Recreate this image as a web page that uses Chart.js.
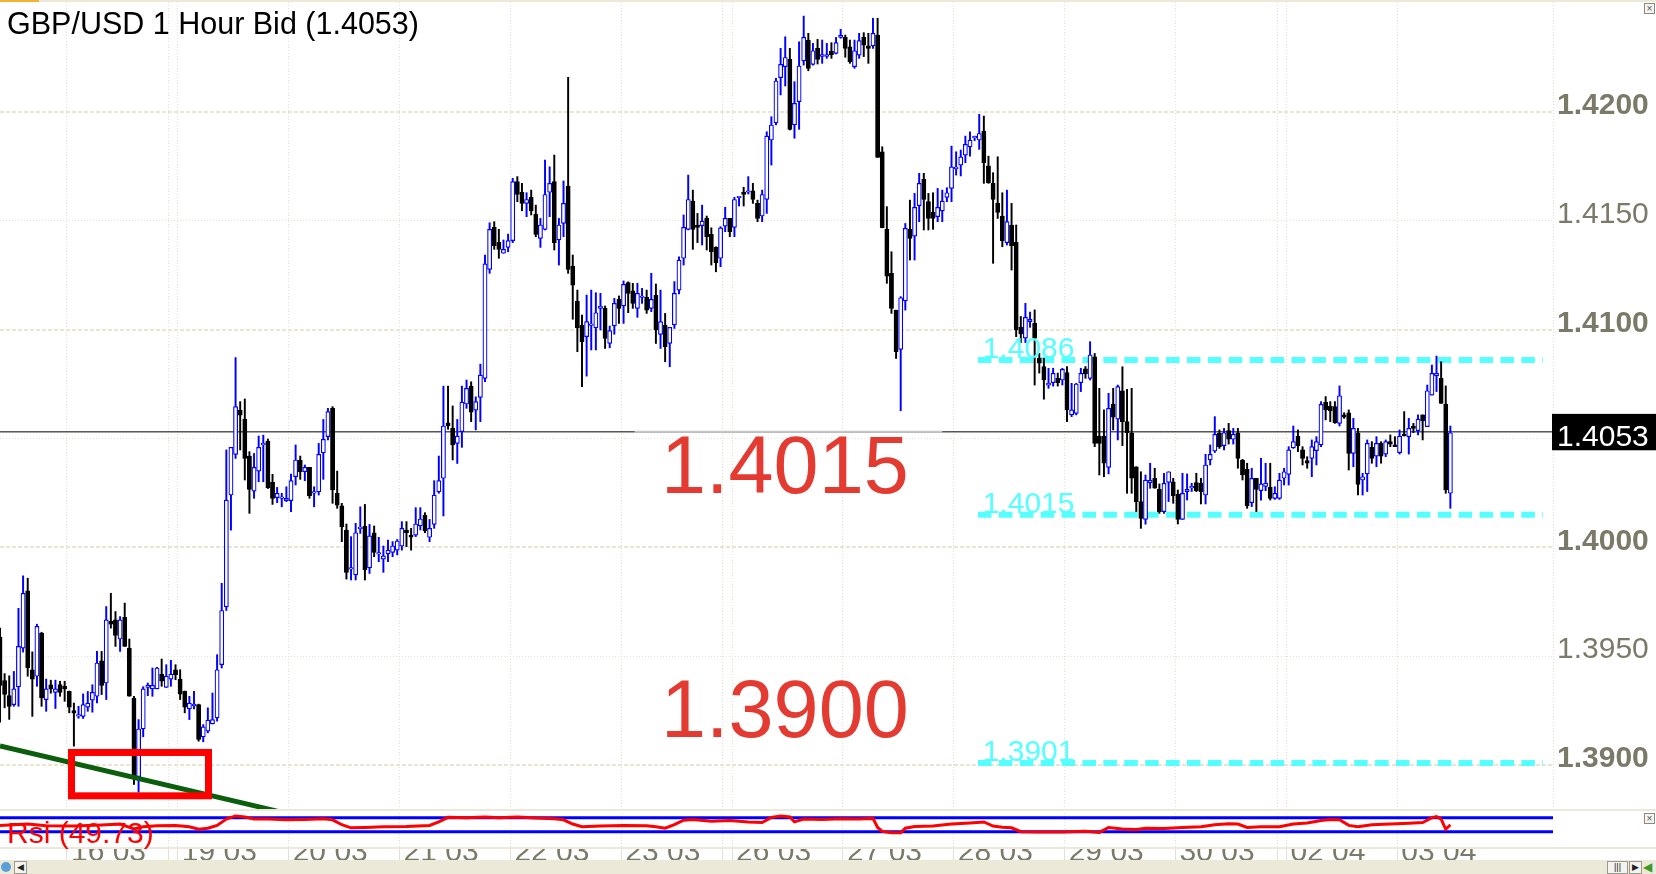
<!DOCTYPE html>
<html>
<head>
<meta charset="utf-8">
<script src="https://cdn.jsdelivr.net/npm/chart.js@4.4.1/dist/chart.umd.min.js"></script>
<style>
  html, body { margin:0; padding:0; background:#ffffff; }
  body { width:1656px; height:874px; position:relative; overflow:hidden; font-family:"Liberation Sans", Arial, sans-serif; }
  canvas { position:absolute; left:0; }
  #c1 { top:0; }
  #c2 { top:810px; }
  .abs { position:absolute; }
  #topline { left:0; top:0; width:1656px; height:2px; background:#ece9d8; }
  #toporange { left:0; top:0; width:39px; height:2px; background:#f3b233; }
  #title { left:7px; top:8px; font-size:30.5px; line-height:30px; color:#000; white-space:nowrap; }
  #sep1 { left:0; top:809px; width:1656px; height:2px; background:#ebe8dc; }
  #sep2 { left:0; top:847px; width:1656px; height:2px; background:#ebe8dc; }
  #rsiTitle { left:7px; top:818px; font-size:30px; line-height:30px; color:#ff0000; white-space:nowrap; }
  #bottombar { left:0; top:860px; width:1656px; height:14px; background:#ece9d8; }
  .xbtn { width:9px; height:9px; border:1px solid #8a8a80; background:#f6f5f0; font-size:10px; line-height:9px; text-align:center; color:#555; }
  .bb { top:1px; height:11px; border:1px solid #9a9a90; background:#f4f3ee; font-size:9px; line-height:11px; text-align:center; color:#222; }
</style>
</head>
<body>
<canvas id="c1" width="1656" height="812"></canvas>
<canvas id="c2" width="1656" height="64"></canvas>
<div id="topline" class="abs"></div>
<div id="toporange" class="abs"></div>
<div id="title" class="abs">GBP/USD 1 Hour Bid (1.4053)</div>
<div class="abs xbtn" style="left:1644px;top:3px;">×</div>
<div id="sep1" class="abs"></div>
<div id="sep2" class="abs"></div>
<div id="rsiTitle" class="abs">Rsi (49.73)</div>
<div class="abs xbtn" style="left:1644px;top:813px;">×</div>
<div id="bottombar" class="abs">
  <div class="abs" style="left:1px;top:2px;width:10px;height:10px;border-radius:6px;background:#5aa0d8;"></div>
  <div class="abs bb" style="left:14px;width:11px;">◀</div>
  <div class="abs bb" style="left:1607px;width:19px;">|||</div>
  <div class="abs bb" style="left:1629px;width:11px;">▶</div>
  <div class="abs" style="left:1643px;top:1px;font-size:12px;line-height:12px;color:#3a9a2a;">◀</div>
</div>
<script>
const FONT = '"Liberation Sans", Arial, sans-serif';
Chart.defaults.font.family = FONT;

// ---- axis ticks ----
const dayStarts = [14.5, 36.5, 38.5, 62.5, 86.5, 110.5, 134.5, 156.5, 158.5, 182.5, 206.5, 230.5, 254.5, 276.5, 278.5, 302.5];
const dayLabels = ['16 03', '', '19 03', '20 03', '21 03', '22 03', '23 03', '', '26 03', '27 03', '28 03', '29 03', '30 03', '', '02 04', '03 04'];
const yTickValues = [1.3900, 1.3950, 1.4000, 1.4050, 1.4100, 1.4150, 1.4200];

// ---- hourly candles (bar index 0 = 15.03 09:00) ----
const opens = [
1.39588,1.39388,1.39319,1.39278,1.39359,1.39537,1.39800,1.39438,1.39408,1.39606,
1.39301,1.39369,1.39334,1.39370,1.39362,1.39339,1.39250,1.39225,1.39224,1.39266,
1.39298,1.39316,1.39479,1.39377,1.39660,1.39667,1.39579,1.39679,1.39537,1.39308,
1.38947,1.39166,1.39357,1.39350,1.39350,1.39418,1.39357,1.39395,1.39438,1.39395,
1.39339,1.39258,1.39272,1.39278,1.39130,1.39156,1.39189,1.39217,1.39461,1.39727,
1.40240,1.40427,1.40630,1.40589,1.40419,1.40258,1.40350,1.40470,1.40488,1.40298,
1.40228,1.40225,1.40214,1.40214,1.40324,1.40401,1.40347,1.40367,1.40248,1.40255,
1.40434,1.40508,1.40638,1.40248,1.40190,1.40079,1.39900,1.39873,1.40086,1.40098,
1.39906,1.40067,1.39969,1.39946,1.39970,1.39977,1.39987,1.40006,1.40079,1.40056,
1.40056,1.40098,1.40148,1.40046,1.40105,1.40255,1.40317,1.40572,1.40546,1.40477,
1.40531,1.40658,1.40740,1.40630,1.40688,1.40776,1.41276,1.41469,1.41400,1.41350,
1.41377,1.41408,1.41679,1.41630,1.41579,1.41607,1.41530,1.41418,1.41460,1.41630,
1.41679,1.41411,1.41487,1.41659,1.41291,1.41131,1.41020,1.40967,1.41019,1.41008,
1.41097,1.41097,1.40936,1.41017,1.41138,1.41108,1.41216,1.41178,1.41097,1.41147,
1.41148,1.41097,1.41158,1.40978,1.41020,1.40936,1.41021,1.41181,1.41327,1.41460,
1.41590,1.41480,1.41477,1.41510,1.41437,1.41377,1.41327,1.41475,1.41510,1.41469,
1.41605,1.41631,1.41630,1.41637,1.41579,1.41521,1.41597,1.41870,1.41949,1.42156,
1.42207,1.42240,1.41939,1.42046,1.42233,1.42329,1.42217,1.42291,1.42254,1.42254,
1.42278,1.42268,1.42341,1.42341,1.42298,1.42207,1.42260,1.42341,1.42302,1.42302,
1.42352,1.41816,1.41460,1.41258,1.41089,1.40909,1.41131,1.41460,1.41429,1.41569,
1.41689,1.41587,1.41538,1.41518,1.41545,1.41607,1.41648,1.41739,1.41755,1.41801,
1.41839,1.41880,1.41870,1.41911,1.41751,1.41671,1.41579,1.41521,1.41399,1.41480,
1.41400,1.41010,1.40960,1.41036,1.41028,1.40868,1.40830,1.40745,1.40756,1.40776,
1.40768,1.40802,1.40608,1.40615,1.40756,1.40819,1.40776,1.40875,1.40511,1.40511,
1.40367,1.40658,1.40588,1.40719,1.40577,1.40526,1.40370,1.40210,1.40128,1.40297,
1.40317,1.40266,1.40164,1.40298,1.40301,1.40243,1.40128,1.40256,1.40273,1.40297,
1.40294,1.40240,1.40401,1.40442,1.40523,1.40467,1.40536,1.40496,1.40526,1.40401,
1.40358,1.40205,1.40317,1.40260,1.40280,1.40275,1.40225,1.40225,1.40317,1.40335,
1.40457,1.40511,1.40447,1.40398,1.40408,1.40444,1.40470,1.40666,1.40649,1.40646,
1.40569,1.40608,1.40618,1.40431,1.40526,1.40309,1.40337,1.40459,1.40419,1.40477,
1.40428,1.40485,1.40470,1.40435,1.40520,1.40508,1.40557,1.40536,1.40608,1.40554,
1.40699,1.40787,1.40776,1.40658,1.40248];
const highs = [
1.39629,1.39420,1.39410,1.39430,1.39720,1.39869,1.39858,1.39520,1.39647,1.39610,
1.39395,1.39390,1.39390,1.39385,1.39385,1.39340,1.39285,1.39270,1.39327,1.39338,
1.39369,1.39522,1.39522,1.39728,1.39789,1.39705,1.39682,1.39744,1.39579,1.39316,
1.39209,1.39360,1.39377,1.39446,1.39449,1.39487,1.39461,1.39481,1.39461,1.39438,
1.39340,1.39316,1.39339,1.39280,1.39186,1.39263,1.39331,1.39507,1.39835,1.40447,
1.40459,1.40871,1.40669,1.40681,1.40439,1.40431,1.40511,1.40515,1.40497,1.40335,
1.40275,1.40248,1.40278,1.40336,1.40470,1.40419,1.40378,1.40367,1.40278,1.40477,
1.40587,1.40638,1.40646,1.40350,1.40202,1.40107,1.40049,1.40110,1.40186,1.40197,
1.40105,1.40098,1.40046,1.40006,1.40033,1.40026,1.40036,1.40118,1.40118,1.40087,
1.40182,1.40182,1.40159,1.40128,1.40306,1.40419,1.40740,1.40740,1.40649,1.40587,
1.40740,1.40768,1.40760,1.40691,1.40841,1.41342,1.41490,1.41495,1.41460,1.41411,
1.41438,1.41694,1.41702,1.41671,1.41628,1.41640,1.41571,1.41510,1.41778,1.41747,
1.41801,1.41510,1.41682,1.42158,1.41342,1.41181,1.41066,1.41158,1.41181,1.41169,
1.41166,1.41108,1.41016,1.41143,1.41154,1.41223,1.41219,1.41212,1.41212,1.41189,
1.41181,1.41258,1.41209,1.41181,1.41074,1.41010,1.41220,1.41334,1.41526,1.41709,
1.41640,1.41533,1.41571,1.41521,1.41467,1.41380,1.41472,1.41561,1.41510,1.41607,
1.41607,1.41653,1.41702,1.41671,1.41594,1.41640,1.41908,1.41977,1.42153,1.42291,
1.42344,1.42291,1.42138,1.42321,1.42439,1.42360,1.42314,1.42332,1.42329,1.42314,
1.42317,1.42341,1.42378,1.42352,1.42329,1.42329,1.42360,1.42363,1.42360,1.42429,
1.42429,1.41839,1.41564,1.41357,1.41089,1.41151,1.41487,1.41594,1.41625,1.41717,
1.41717,1.41625,1.41628,1.41648,1.41640,1.41651,1.41842,1.41816,1.41824,1.41888,
1.41908,1.41888,1.41988,1.41980,1.41796,1.41720,1.41793,1.41628,1.41640,1.41579,
1.41480,1.41060,1.41120,1.41080,1.41090,1.40890,1.40868,1.40822,1.40822,1.40800,
1.40822,1.40830,1.40753,1.40753,1.40822,1.40830,1.40944,1.40890,1.40730,1.40631,
1.40707,1.40730,1.40745,1.40829,1.40725,1.40730,1.40370,1.40347,1.40332,1.40386,
1.40363,1.40291,1.40340,1.40347,1.40317,1.40263,1.40340,1.40337,1.40294,1.40340,
1.40317,1.40427,1.40470,1.40600,1.40539,1.40546,1.40569,1.40546,1.40546,1.40404,
1.40386,1.40363,1.40317,1.40408,1.40386,1.40386,1.40278,1.40340,1.40363,1.40462,
1.40557,1.40539,1.40462,1.40416,1.40493,1.40508,1.40669,1.40692,1.40669,1.40669,
1.40741,1.40618,1.40631,1.40592,1.40546,1.40340,1.40493,1.40485,1.40508,1.40485,
1.40493,1.40516,1.40508,1.40539,1.40623,1.40592,1.40569,1.40608,1.40608,1.40745,
1.40837,1.40878,1.40852,1.40741,1.40557];
const lows = [
1.39197,1.39263,1.39210,1.39270,1.39270,1.39519,1.39408,1.39224,1.39362,1.39270,
1.39247,1.39330,1.39260,1.39316,1.39293,1.39240,1.39087,1.39215,1.39214,1.39247,
1.39243,1.39285,1.39324,1.39301,1.39629,1.39545,1.39522,1.39545,1.39316,1.38911,
1.38876,1.39130,1.39319,1.39316,1.39350,1.39362,1.39357,1.39362,1.39392,1.39301,
1.39240,1.39209,1.39258,1.39110,1.39107,1.39148,1.39189,1.39202,1.39446,1.39710,
1.40079,1.40408,1.40447,1.40309,1.40156,1.40225,1.40301,1.40301,1.40270,1.40197,
1.40205,1.40186,1.40210,1.40164,1.40286,1.40312,1.40306,1.40225,1.40186,1.40240,
1.40312,1.40493,1.40202,1.40179,1.40026,1.39854,1.39850,1.39850,1.40064,1.39850,
1.39880,1.39957,1.39934,1.39885,1.39934,1.39957,1.39965,1.39987,1.40003,1.39987,
1.40049,1.40080,1.40067,1.40026,1.40087,1.40248,1.40144,1.40542,1.40401,1.40385,
1.40459,1.40638,1.40577,1.40539,1.40577,1.40760,1.41258,1.41368,1.41327,1.41350,
1.41357,1.41399,1.41587,1.41545,1.41518,1.41526,1.41426,1.41377,1.41457,1.41518,
1.41365,1.41296,1.41426,1.41258,1.41047,1.40898,1.40737,1.40786,1.40906,1.40906,
1.40998,1.40913,1.40916,1.40978,1.41028,1.41028,1.41077,1.41097,1.41056,1.41120,
1.41074,1.41082,1.40936,1.40913,1.40852,1.40829,1.41005,1.41163,1.41296,1.41457,
1.41368,1.41399,1.41388,1.41365,1.41296,1.41265,1.41288,1.41449,1.41426,1.41426,
1.41567,1.41567,1.41622,1.41579,1.41495,1.41495,1.41533,1.41755,1.41939,1.42077,
1.42118,1.41916,1.41878,1.41919,1.42214,1.42188,1.42214,1.42219,1.42222,1.42245,
1.42245,1.42265,1.42337,1.42250,1.42222,1.42199,1.42245,1.42253,1.42222,1.42291,
1.41790,1.41467,1.41212,1.41074,1.40867,1.40627,1.41089,1.41319,1.41319,1.41495,
1.41457,1.41457,1.41460,1.41495,1.41495,1.41587,1.41587,1.41709,1.41705,1.41766,
1.41796,1.41867,1.41827,1.41671,1.41671,1.41304,1.41510,1.41380,1.41388,1.41273,
1.40967,1.40940,1.40940,1.41010,1.40745,1.40800,1.40680,1.40730,1.40740,1.40740,
1.40745,1.40577,1.40600,1.40608,1.40715,1.40776,1.40768,1.40462,1.40332,1.40324,
1.40337,1.40539,1.40493,1.40467,1.40248,1.40248,1.40164,1.40087,1.40106,1.40271,
1.40271,1.40156,1.40156,1.40210,1.40202,1.40107,1.40128,1.40217,1.40256,1.40256,
1.40199,1.40199,1.40378,1.40435,1.40454,1.40447,1.40474,1.40474,1.40363,1.40309,
1.40179,1.40187,1.40164,1.40217,1.40260,1.40217,1.40220,1.40220,1.40286,1.40286,
1.40454,1.40439,1.40378,1.40363,1.40324,1.40378,1.40462,1.40585,1.40577,1.40569,
1.40557,1.40592,1.40355,1.40370,1.40240,1.40240,1.40256,1.40386,1.40370,1.40386,
1.40416,1.40462,1.40462,1.40428,1.40511,1.40428,1.40526,1.40516,1.40493,1.40554,
1.40699,1.40715,1.40661,1.40248,1.40179];
const closes = [
1.39366,1.39324,1.39270,1.39350,1.39545,1.39789,1.39446,1.39395,1.39637,1.39308,
1.39350,1.39350,1.39350,1.39334,1.39350,1.39266,1.39238,1.39230,1.39278,1.39285,
1.39334,1.39469,1.39366,1.39667,1.39647,1.39595,1.39667,1.39545,1.39316,1.38949,
1.39166,1.39350,1.39366,1.39366,1.39446,1.39385,1.39408,1.39418,1.39415,1.39326,
1.39266,1.39285,1.39280,1.39118,1.39176,1.39206,1.39209,1.39438,1.39710,1.40217,
1.40459,1.40646,1.40607,1.40408,1.40266,1.40367,1.40459,1.40472,1.40274,1.40225,
1.40248,1.40227,1.40225,1.40306,1.40401,1.40347,1.40367,1.40237,1.40256,1.40427,
1.40496,1.40623,1.40263,1.40194,1.40095,1.39885,1.39905,1.40067,1.40087,1.39896,
1.40053,1.39977,1.39970,1.39961,1.39987,1.40006,1.40029,1.40087,1.40067,1.40046,
1.40107,1.40130,1.40076,1.40087,1.40240,1.40306,1.40557,1.40557,1.40470,1.40511,
1.40666,1.40730,1.40620,1.40669,1.40791,1.41301,1.41460,1.41385,1.41368,1.41368,
1.41408,1.41679,1.41620,1.41579,1.41597,1.41545,1.41437,1.41480,1.41620,1.41671,
1.41399,1.41480,1.41579,1.41276,1.41204,1.41008,1.40944,1.41036,1.41021,1.41077,
1.41108,1.40959,1.40995,1.41120,1.41097,1.41207,1.41166,1.41120,1.41166,1.41148,
1.41089,1.41138,1.40998,1.41036,1.40921,1.41010,1.41166,1.41319,1.41469,1.41597,
1.41460,1.41469,1.41498,1.41426,1.41357,1.41307,1.41467,1.41510,1.41449,1.41597,
1.41607,1.41620,1.41631,1.41597,1.41510,1.41620,1.41888,1.41939,1.42141,1.42217,
1.42249,1.41919,1.42038,1.42210,1.42341,1.42199,1.42280,1.42240,1.42262,1.42262,
1.42262,1.42317,1.42352,1.42291,1.42230,1.42280,1.42326,1.42306,1.42291,1.42360,
1.41790,1.41467,1.41245,1.41097,1.40898,1.41146,1.41464,1.41418,1.41561,1.41671,
1.41597,1.41510,1.41510,1.41561,1.41590,1.41628,1.41747,1.41740,1.41793,1.41850,
1.41870,1.41881,1.41900,1.41766,1.41674,1.41597,1.41538,1.41408,1.41495,1.41385,
1.40998,1.40980,1.41056,1.41047,1.40960,1.40845,1.40768,1.40753,1.40799,1.40756,
1.40817,1.40631,1.40631,1.40750,1.40799,1.40796,1.40883,1.40477,1.40477,1.40386,
1.40638,1.40597,1.40738,1.40577,1.40526,1.40317,1.40210,1.40133,1.40309,1.40309,
1.40271,1.40164,1.40294,1.40347,1.40236,1.40128,1.40248,1.40266,1.40274,1.40260,
1.40256,1.40378,1.40427,1.40519,1.40462,1.40526,1.40496,1.40519,1.40408,1.40332,
1.40190,1.40317,1.40266,1.40291,1.40295,1.40225,1.40248,1.40309,1.40347,1.40447,
1.40485,1.40467,1.40408,1.40386,1.40462,1.40485,1.40656,1.40631,1.40626,1.40572,
1.40696,1.40597,1.40431,1.40546,1.40289,1.40324,1.40477,1.40408,1.40477,1.40419,
1.40485,1.40474,1.40462,1.40511,1.40511,1.40546,1.40546,1.40588,1.40580,1.40719,
1.40799,1.40799,1.40661,1.40263,1.40526];

// ---- drawn objects ----
const lastPrice = 1.4053;
const levels = [1.4086, 1.4015, 1.3901];
const levelBars = [211.73, 334.05];
const priceLineBars = [0, 336.22];
const priceLineGapBars = [137.4, 204.0];
const trendBars = [0, 60];
const trendPrices = [1.39088, 1.38789];
const boxBars = [15.48, 45.14];
const boxPrices = [1.39058, 1.38859];
const calloutTexts = ['1.4015', '1.3900'];

// ---- RSI(14) ----
const rsiBars = [0,6,10,16,22,26,29,31,34,38,41,43,45,47,49,51,53,55,58,62,66,70,72,74,76,79,83,88,93,95,97,101,105,108,112,116,120,122,124,126,130,135,140,142,144,146,148,150,154,158,162,165,167,169,171,172,174,178,182,186,189,190,191,193,195,196,198,202,206,210,213,215,217,219,221,225,230,235,238,240,243,246,248,252,256,260,263,266,268,270,273,277,280,283,286,288,290,292,294,297,301,305,308,310,311,312,313,314];
const rsiValues = [48,52,47,46,49,52,38,44,47,48,44,37,40,48,66,75,72,66,66,64,65,67,64,50,41,42,44,45,48,58,71,70,72,70,72,69,67,64,52,44,46,48,47,44,40,50,63,65,60,62,58,56,71,75,72,58,66,65,67,66,68,42,31,27,27,40,45,46,52,55,58,46,43,41,30,29,29,31,28,42,38,36,40,39,42,44,50,53,52,42,44,44,52,55,62,65,64,48,44,50,52,54,56,70,73,66,37,49.73];
const rsiLevels = [70, 30];

// ---- layout constants ----
const X_MAX = 336.22;
const Y_MIN = 1.387939, Y_MAX = 1.425037;
const RSI_MIN = -16.57, RSI_MAX = 92;
const AXIS_COLOR = '#7b7a68';
const VGRID = '#e4e1d4';

const isMajor = v => v != null && Math.round(v * 1000) % 10 === 0;
const idx = opens.map((_, i) => i);
const up = idx.map(i => closes[i] >= opens[i]);

const overlay = {
  id: 'overlay',
  afterDatasetsDraw(chart) {
    const { ctx, scales: { x, y } } = chart;
    ctx.save();
    ctx.font = '30px ' + FONT;
    ctx.fillStyle = '#55ffff';
    ctx.textBaseline = 'alphabetic';
    levels.forEach(v => ctx.fillText(v.toFixed(4), x.getPixelForValue(levelBars[0]) + 4.7, y.getPixelForValue(v) - 2));
    ctx.strokeStyle = '#ff0000';
    ctx.lineWidth = 7;
    const x0 = x.getPixelForValue(boxBars[0]), x1 = x.getPixelForValue(boxBars[1]);
    const y0 = y.getPixelForValue(boxPrices[0]), y1 = y.getPixelForValue(boxPrices[1]);
    ctx.strokeRect(x0, y0, x1 - x0, y1 - y0);
    ctx.font = '81px ' + FONT;
    ctx.fillStyle = '#e33b31';
    ctx.fillText(calloutTexts[0], 661, 493.3);
    ctx.fillText(calloutTexts[1], 661, 736.7);
    ctx.restore();
  },
  afterDraw(chart) {
    const { ctx, scales: { y }, chartArea } = chart;
    ctx.save();
    ctx.strokeStyle = '#e2dfd2';
    ctx.lineWidth = 1;
    ctx.setLineDash([1, 2]);
    ctx.beginPath();
    ctx.moveTo(chartArea.right + 0.5, chartArea.top);
    ctx.lineTo(chartArea.right + 0.5, chartArea.bottom);
    ctx.stroke();
    ctx.setLineDash([]);
    const py = y.getPixelForValue(lastPrice);
    ctx.fillStyle = '#000';
    ctx.fillRect(chartArea.right - 1, py - 18, chart.width - chartArea.right + 1, 36.4);
    ctx.fillStyle = '#fff';
    ctx.font = '30px ' + FONT;
    ctx.textBaseline = 'alphabetic';
    ctx.fillText(lastPrice.toFixed(4), chartArea.right + 4, py + 14.4);
    ctx.restore();
  }
};

const hLine = (bars, v) => [{ x: bars[0], y: v }, { x: bars[1], y: v }];
const noPad = s => { s.paddingTop = 0; s.paddingBottom = 0; s.paddingLeft = 0; s.paddingRight = 0; };

new Chart(document.getElementById('c1'), {
  type: 'bar',
  data: {
    datasets: [
      { type: 'line', data: hLine(priceLineBars, lastPrice), borderColor: '#000000', borderWidth: 1, pointRadius: 0, order: 10 },
      { type: 'line', data: hLine(priceLineGapBars, lastPrice), borderColor: '#c6c6c6', borderWidth: 2, pointRadius: 0, order: 9 },
      ...levels.map(v => ({ type: 'line', data: hLine(levelBars, v), borderColor: '#55ffff', borderWidth: 6, borderDash: [13.5, 7.4], borderCapStyle: 'butt', pointRadius: 0, order: 8 })),
      { type: 'bar', data: idx.map(i => ({ x: i, y: [lows[i], highs[i]] })), backgroundColor: idx.map(i => up[i] ? '#0000ff' : '#000000'), borderWidth: 0, barThickness: 1.3, grouped: false, order: 5 },
      { type: 'bar', data: idx.map(i => ({ x: i, y: [opens[i], closes[i]] })), backgroundColor: idx.map(i => up[i] ? '#ffffff' : '#000000'), borderColor: idx.map(i => up[i] ? '#0000ff' : '#000000'), borderWidth: 1.2, borderSkipped: false, barThickness: 4.2, minBarLength: 1.5, grouped: false, order: 4 },
      { type: 'line', data: trendBars.map((b, k) => ({ x: b, y: trendPrices[k] })), borderColor: '#0b5e0b', borderWidth: 5, pointRadius: 0, order: 1 }
    ]
  },
  options: {
    responsive: false, animation: false, devicePixelRatio: 1, events: [],
    layout: { padding: { top: 2, bottom: 2, left: 0, right: 0 } },
    plugins: { legend: { display: false }, tooltip: { enabled: false } },
    scales: {
      x: {
        type: 'linear', min: 0, max: X_MAX, offset: false,
        afterBuildTicks: s => { s.ticks = dayStarts.map(v => ({ value: v })); },
        afterFit: s => { s.height = 0; noPad(s); },
        ticks: { display: false },
        grid: { display: true, offset: false, drawTicks: false, color: VGRID, lineWidth: 1 },
        border: { display: false, dash: [1, 2] }
      },
      y: {
        type: 'linear', position: 'right', min: Y_MIN, max: Y_MAX,
        afterBuildTicks: s => { s.ticks = yTickValues.map(v => ({ value: v })); },
        afterFit: s => { s.width = 103; noPad(s); },
        grid: { drawTicks: false, lineWidth: 2, color: c => isMajor(c.tick && c.tick.value) ? '#e9e5d3' : 'rgba(0,0,0,0)' },
        border: { display: false, dash: [4, 2] },
        ticks: {
          padding: 4, labelOffset: -6, color: AXIS_COLOR,
          font: c => ({ family: FONT, size: 30, weight: isMajor(c.tick && c.tick.value) ? 'bold' : 'normal' }),
          callback: v => Math.abs(v - lastPrice) < 0.0005 ? '' : Number(v).toFixed(4)
        }
      },
      yMinor: {
        type: 'linear', position: 'right', min: Y_MIN, max: Y_MAX,
        afterBuildTicks: s => { s.ticks = yTickValues.map(v => ({ value: v })); },
        afterFit: s => { s.width = 0; noPad(s); },
        ticks: { display: false },
        grid: { drawTicks: false, lineWidth: 1, color: c => isMajor(c.tick && c.tick.value) ? 'rgba(0,0,0,0)' : '#e6e3d6' },
        border: { display: false, dash: [1, 2] }
      }
    }
  },
  plugins: [overlay]
});

new Chart(document.getElementById('c2'), {
  type: 'line',
  data: {
    datasets: [
      { data: rsiBars.map((b, k) => ({ x: b, y: rsiValues[k] })), borderColor: '#ff0000', borderWidth: 3, pointRadius: 0, tension: 0, order: 1 },
      ...rsiLevels.map(v => ({ data: hLine(priceLineBars, v), borderColor: '#0000ff', borderWidth: 3, pointRadius: 0, order: 2 }))
    ]
  },
  options: {
    responsive: false, animation: false, devicePixelRatio: 1, events: [],
    layout: { padding: { top: 0, right: 103, left: 0, bottom: 0 } },
    plugins: { legend: { display: false }, tooltip: { enabled: false } },
    scales: {
      x: {
        type: 'linear', min: 0, max: X_MAX, offset: false,
        afterBuildTicks: s => { s.ticks = dayStarts.map(v => ({ value: v })); },
        afterFit: s => { s.height = 26; noPad(s); },
        ticks: { autoSkip: false, maxRotation: 0, minRotation: 0, align: 'start', labelOffset: 4, padding: -25, color: AXIS_COLOR, font: { family: FONT, size: 30 }, callback: (v, i) => dayLabels[i] },
        grid: { display: true, offset: false, drawTicks: true, tickLength: 12, color: VGRID, tickColor: VGRID, lineWidth: 1 },
        border: { display: false, dash: [1, 2] }
      },
      y: { display: false, min: RSI_MIN, max: RSI_MAX }
    }
  }
});
</script>
</body>
</html>
